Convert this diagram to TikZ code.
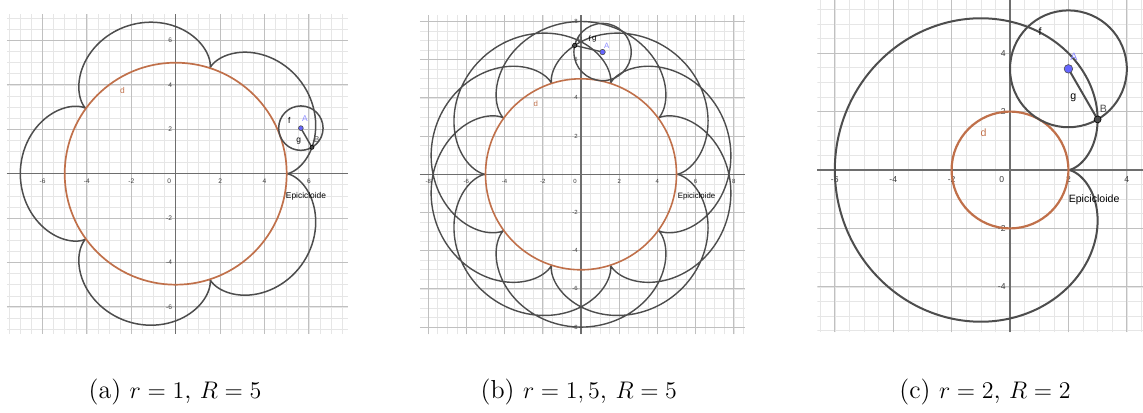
\documentclass[tikz,border=0pt]{standalone}
\usepackage{fontspec}
\setsansfont{Liberation Sans}
\usetikzlibrary{positioning}
\definecolor{curvegray}{HTML}{4D4D4D}
\definecolor{dbrown}{HTML}{C0704A}
\definecolor{ptblue}{HTML}{6666FF}
\definecolor{lblblue}{HTML}{8C8CFF}
\definecolor{majorgray}{HTML}{C0C0C0}
\definecolor{minorgray}{HTML}{E6E6E6}
\definecolor{axisgray}{HTML}{6E6E6E}
\definecolor{ticktext}{HTML}{3C3C3C}
\tikzset{
  minorline/.style={draw=minorgray, line width=0.3pt},
  majorline/.style={draw=majorgray, line width=0.45pt},
  axisline/.style={draw=axisgray, line width=0.55pt},
  curveline/.style={draw=curvegray, line width=#1},
  curveline/.default=0.75pt,
  circd/.style={draw=dbrown, line width=#1},
  ticklbl/.style={font=\fontsize{#1}{#1}\selectfont\sffamily, text=ticktext, inner sep=0pt},
  objlbl/.style={font=\fontsize{#1}{#1}\selectfont\sffamily, inner sep=0pt},
  ptA/.style={circle, fill=ptblue, draw=curvegray, line width=0.3pt, inner sep=0pt, minimum size=#1},
  ptB/.style={circle, fill=curvegray, draw=black, line width=0.3pt, inner sep=0pt, minimum size=#1},
  caption/.style={font=\fontsize{13}{15}\selectfont}
}
% grid and axes of one GeoGebra view: xmin, xmax, ymin, ymax
\newcommand{\ggbgrid}[4]{%
  \begin{scope}
    \clip (#1,#3) rectangle (#2,#4);
    \foreach \k in {-20,...,20} {
      \draw[minorline] (\k/2,#3) -- (\k/2,#4);
      \draw[minorline] (#1,\k/2) -- (#2,\k/2);
    }
    \foreach \k in {-5,...,5} {
      \draw[majorline] (2*\k,#3) -- (2*\k,#4);
      \draw[majorline] (#1,2*\k) -- (#2,2*\k);
    }
  \end{scope}
  \draw[axisline] (#1,0) -- (#2,0);
  \draw[axisline] (0,#3) -- (0,#4);
}

\begin{document}
\begin{tikzpicture}
  \useasboundingbox (0,0) rectangle (571.5pt,206pt);

  % (a) r = 1, R = 5
  \begin{scope}[shift={(87.85pt,119.15pt)}, x=11.1pt, y=11.1pt]
    \ggbgrid{-7.6}{7.75}{-7.22}{7.2}
    \foreach \v in {-6,-4,-2,2,4,6} {
      \node[ticklbl=3.3] at (\v,-0.32) {\v};
      \node[ticklbl=3.3, anchor=east] at (-0.15,\v) {\v};
    }
    \node[ticklbl=3.3] (oa) at (-0.29,-0.32) {0};
    \draw[curveline] plot[domain=0:360, samples=361]
      ({6*cos(\x)-cos(6*\x)},{6*sin(\x)-sin(6*\x)});
    \draw[circd=0.85pt] (0,0) circle (5);
    \coordinate (Aa) at ({6*cos(20)},{6*sin(20)});
    \coordinate (Ba) at ({6*cos(20)-cos(120)},{6*sin(20)-sin(120)});
    \draw[curveline] (Aa) circle (1);
    \draw[curveline] (Aa) -- (Ba);
    \node[ptA=2.4pt] (ptAa) at (Aa) {};
    \node[ptB=2pt] (ptBa) at (Ba) {};
    \node[objlbl=4.2, text=dbrown] (da) at (-2.4,3.77) {d};
    \node[objlbl=4.2] (fa) at (5.12,2.42) {f};
    \node[objlbl=4.2, text=lblblue] (lAa) at (5.82,2.46) {A};
    \node[objlbl=4.2] (ga) at (5.54,1.47) {g};
    \node[objlbl=4.2, text=curvegray] (lBa) at (6.35,1.52) {B};
    \node[objlbl=4.2] (epa) at (5.87,-1.04) {Epicicloide};
  \end{scope}

  % (b) r = 1,5, R = 5
  \begin{scope}[shift={(290.5pt,118.85pt)}, x=9.55pt, y=9.55pt]
    \ggbgrid{-8.43}{8.59}{-8.38}{8.34}
    \foreach \v in {-8,-6,-4,-2,2,4,6,8} {
      \node[ticklbl=3] at (\v,-0.36) {\v};
      \node[ticklbl=3, anchor=east] at (-0.15,\v) {\v};
    }
    \node[ticklbl=3] (ob) at (-0.31,-0.36) {0};
    \draw[curveline=0.7pt] plot[domain=0:1080, samples=1081]
      ({6.5*cos(\x)-1.5*cos(13*\x/3)},{6.5*sin(\x)-1.5*sin(13*\x/3)});
    \draw[circd=0.8pt] (0,0) circle (5);
    \coordinate (Ab) at ({6.5*cos(80)},{6.5*sin(80)});
    \coordinate (Bb) at ({6.5*cos(80)-1.5*cos(1040/3)},{6.5*sin(80)-1.5*sin(1040/3)});
    \draw[curveline=0.7pt] (Ab) circle (1.5);
    \draw[curveline=0.7pt] (Ab) -- (Bb);
    \node[ptA=2.7pt] (ptAb) at (Ab) {};
    \node[ptB=2.2pt] (ptBb) at (Bb) {};
    \node[objlbl=3.9, text=dbrown] (db) at (-2.37,3.67) {d};
    \node[objlbl=3.9, text=lblblue] (lAb) at (1.35,6.75) {A};
    \node[objlbl=3.9, text=curvegray] (lBb) at (-0.04,7.03) {B};
    \node[objlbl=3.9] (fb) at (0.45,7.1) {f};
    \node[objlbl=3.9] (gb) at (0.7,7.06) {g};
    \node[objlbl=3.9] (epb) at (6.05,-1.14) {Epicicloide};
  \end{scope}

  % (c) r = 2, R = 2
  \begin{scope}[shift={(505pt,121pt)}, x=14.6pt, y=14.6pt]
    \ggbgrid{-6.6}{4.55}{-5.56}{5.82}
    \foreach \v in {-6,-4,-2,2,4} {
      \node[ticklbl=4.3] at (\v,-0.32) {\v};
    }
    \foreach \v in {-4,-2,2,4} {
      \node[ticklbl=4.3, anchor=east] at (-0.14,\v) {\v};
    }
    \node[ticklbl=4.3] (oc) at (-0.28,-0.32) {0};
    \draw[curveline=1pt] plot[domain=0:360, samples=361]
      ({4*cos(\x)-2*cos(2*\x)},{4*sin(\x)-2*sin(2*\x)});
    \draw[circd=1.1pt] (0,0) circle (2);
    \coordinate (Ac) at ({4*cos(60)},{4*sin(60)});
    \coordinate (Bc) at ({4*cos(60)-2*cos(120)},{4*sin(60)-2*sin(120)});
    \draw[curveline=1pt] (Ac) circle (2);
    \draw[curveline=1pt] (Ac) -- (Bc);
    \node[ptA=4.3pt] (ptAc) at (Ac) {};
    \node[ptB=3.5pt] (ptBc) at (Bc) {};
    \node[objlbl=5.3, text=dbrown] (dc) at (-0.91,1.26) {d};
    \node[objlbl=5.3] (fc) at (1.03,4.74) {f};
    \node[objlbl=5.3, text=lblblue] (lAc) at (2.19,3.88) {A};
    \node[objlbl=5.3] (gc) at (2.17,2.49) {g};
    \node[objlbl=5.3, text=curvegray] (lBc) at (3.2,2.11) {B};
    \node[objlbl=5.3] (epc) at (2.88,-1.03) {Epicicloide};
  \end{scope}

  % captions
  \node[caption] (capa) at (87.5pt,10pt) {(a) $r=1$, $R=5$};
  \node[caption] (capb) at (289.4pt,10pt) {(b) $r=1,5$, $R=5$};
  \node[caption] (capc) at (492.5pt,10pt) {(c) $r=2$, $R=2$};
\end{tikzpicture}
\end{document}
